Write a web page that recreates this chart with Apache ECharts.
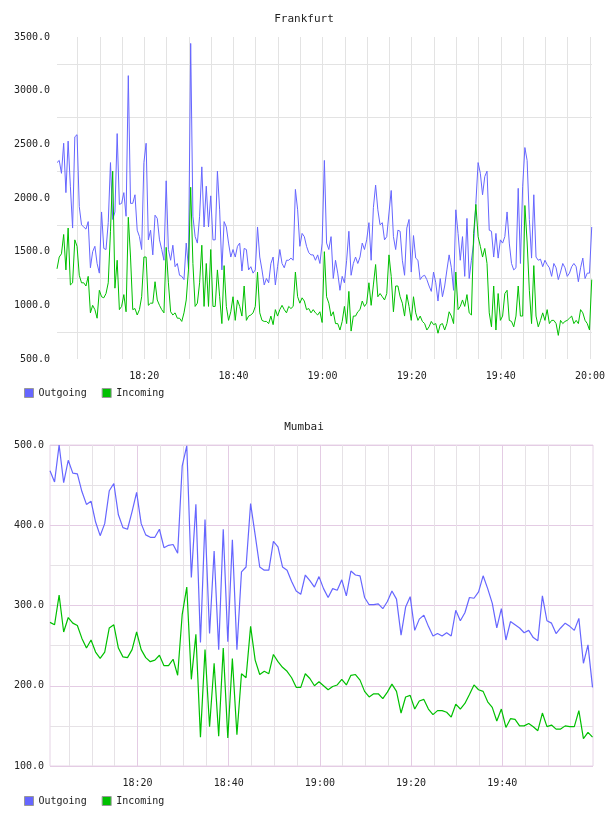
<!DOCTYPE html>
<html>
<head>
<meta charset="utf-8">
<script src="https://cdn.jsdelivr.net/npm/echarts@6/dist/echarts.min.js"></script>
<style>
  html, body { margin: 0; padding: 0; background: #fff; }
  #chart { width: 608px; height: 816px; }
</style>
</head>
<body>
<div id="chart"></div>
<script>
// minutes after 18:00 for the first sample, and sample spacing in minutes
const frankfurtStart = 0.4
const frankfurtStep = 0.5
const mumbaiStart = 0.8
const mumbaiStep = 1

const frankfurtOutgoing = [
  2330, 2350, 2230, 2510, 2050, 2530, 2110, 1720, 2570, 2590,
  1920, 1750, 1730, 1710, 1780, 1350, 1500, 1550, 1390, 1300,
  1870, 1530, 1520, 1770, 2330, 1800, 1870, 2600, 1940, 1950,
  2050, 1830, 3140, 1950, 1950, 2030, 1700, 1640, 1520, 2330,
  2510, 1610, 1700, 1470, 1840, 1810, 1610, 1520, 1420, 2160,
  1520, 1420, 1560, 1360, 1390, 1280, 1270, 1240, 1580, 1350,
  3440, 1830, 1640, 1580, 1830, 2290, 1730, 2110, 1730, 2020,
  1610, 1610, 2250, 1890, 1330, 1780, 1730, 1580, 1450, 1520,
  1450, 1550, 1580, 1320, 1530, 1520, 1330, 1360, 1300, 1330,
  1730, 1450, 1330, 1190, 1250, 1210, 1390, 1450, 1190, 1360,
  1520, 1390, 1350, 1420, 1420, 1440, 1420, 2080, 1890, 1550,
  1670, 1640, 1550, 1490, 1470, 1470, 1420, 1470, 1390, 1580,
  2350, 1580, 1520, 1640, 1250, 1420, 1300, 1140, 1270, 1210,
  1420, 1690, 1280, 1390, 1450, 1390, 1450, 1580, 1520, 1610,
  1770, 1420, 1910, 2120, 1890, 1750, 1770, 1610, 1640, 1860,
  2070, 1640, 1520, 1700, 1690, 1420, 1280, 1720, 1800, 1310,
  1650, 1440, 1420, 1240, 1270, 1280, 1240, 1180, 1130, 1310,
  1210, 1040, 1250, 1080, 1180, 1330, 1470, 1350, 1140, 1890,
  1670, 1420, 1640, 1270, 1810, 1250, 1420, 1580, 1950, 2330,
  2230, 2030, 2200, 2250, 1700, 1690, 1450, 1670, 1440, 1610,
  1580, 1640, 1870, 1580, 1390, 1330, 1350, 2090, 1390, 2110,
  2470, 2350, 1800, 1440, 2030, 1450, 1420, 1430, 1360, 1420,
  1380, 1350, 1270, 1390, 1350, 1240, 1310, 1390, 1350, 1270,
  1300, 1360, 1390, 1360, 1220, 1350, 1440, 1250, 1300, 1300,
  1730
]

const frankfurtIncoming = [
  1340, 1450, 1480, 1660, 1330, 1720, 1190, 1210, 1610, 1550,
  1280, 1210, 1210, 1180, 1270, 930, 1000, 960, 880, 1140,
  1080, 1070, 1110, 1210, 1690, 2250, 1160, 1420, 960, 990,
  1100, 940, 1820, 1450, 960, 970, 910, 960, 1080, 1450,
  1450, 1000, 1020, 1020, 1220, 1050, 1000, 960, 930, 1540,
  1210, 940, 910, 930, 880, 880, 850, 930, 1050, 1330,
  2100, 1390, 990, 1020, 1210, 1560, 990, 1390, 990, 1520,
  990, 990, 1330, 1080, 830, 1370, 990, 860, 940, 1080,
  860, 1050, 990, 900, 1180, 860, 900, 910, 930, 990,
  1310, 930, 860, 850, 850, 830, 900, 820, 960, 900,
  960, 1000, 960, 930, 990, 970, 990, 1310, 1080, 1020,
  1070, 1040, 960, 970, 930, 960, 930, 910, 940, 840,
  1500, 1080, 1020, 900, 940, 830, 830, 770, 850, 990,
  830, 1130, 760, 900, 900, 940, 960, 1040, 990, 1020,
  1210, 1000, 1190, 1380, 1080, 1110, 1080, 1050, 1110, 1470,
  1270, 940, 1180, 1180, 1080, 1020, 900, 1100, 990, 860,
  1080, 930, 860, 900, 850, 830, 770, 800, 850, 820,
  830, 740, 820, 830, 770, 830, 940, 900, 830, 1310,
  960, 990, 1050, 990, 1100, 930, 910, 1670, 1940, 1640,
  1550, 1450, 1530, 1390, 930, 800, 1180, 770, 1110, 860,
  900, 1110, 1140, 860, 850, 800, 900, 1180, 900, 900,
  1930, 1590, 1140, 830, 1370, 900, 800, 860, 930, 860,
  960, 830, 860, 860, 830, 720, 860, 830, 850, 860,
  880, 900, 830, 860, 830, 960, 930, 860, 830, 770,
  1240
]

const mumbaiOutgoing = [
  468, 454, 500, 453, 481, 465, 464, 442, 426, 430,
  404, 387, 402, 443, 452, 413, 397, 395, 417, 441,
  402, 388, 385, 385, 395, 372, 375, 376, 365, 474,
  499, 335, 426, 254, 407, 265, 368, 245, 395, 255,
  382, 245, 342, 348, 427, 388, 348, 344, 344, 380,
  373, 348, 344, 330, 318, 314, 338, 331, 323, 336,
  321, 310, 321, 319, 332, 312, 343, 338, 337, 310,
  301, 301, 302, 296, 305, 318, 308, 263, 298, 311,
  269, 283, 288, 274, 262, 265, 262, 266, 262, 294,
  281, 291, 310, 309, 317, 337, 321, 303, 272, 296,
  257, 280, 276, 272, 266, 269, 260, 256, 312, 281,
  278, 265, 272, 278, 274, 269, 284, 228, 251, 198
]

const mumbaiIncoming = [
  279, 276, 313, 267, 285, 278, 275, 259, 247, 257,
  242, 234, 242, 272, 276, 247, 236, 235, 245, 267,
  245, 235, 230, 232, 238, 225, 225, 233, 213, 289,
  323, 208, 264, 136, 245, 149, 228, 137, 247, 135,
  234, 139, 215, 210, 274, 232, 214, 218, 215, 239,
  230, 223, 218, 210, 198, 198, 215, 209, 200, 205,
  200, 195, 199, 201, 208, 201, 213, 214, 207, 193,
  186, 190, 190, 184, 192, 202, 193, 166, 186, 188,
  171, 181, 183, 171, 164, 169, 169, 167, 161, 177,
  171, 178, 189, 201, 195, 193, 180, 173, 156, 171,
  148, 159, 158, 150, 150, 153, 149, 144, 166, 149,
  151, 146, 146, 150, 149, 149, 169, 134, 142, 136
]

const seriesNames = ['Outgoing', 'Incoming']

const font = 'DejaVu Sans Mono'
const textColor = '#222'
const blue = '#6666ff'
const green = '#00c000'
const grayLine = '#e3e3e3'
const lilacMajor = '#e4cce4'
const lilacMinor = '#e6e2e6'

function toPairs(values, start, step) {
  return values.map((v, i) => [start + i * step, v])
}

function clockLabel(v) {
  if (Math.abs(v % 20) > 1e-6) return ''
  const m = Math.round(18 * 60 + v)
  return String(Math.floor(m / 60)).padStart(2, '0') + ':' + String(m % 60).padStart(2, '0')
}

function xAxis(gridIndex, min, max, colors, margin) {
  return {
    type: 'value',
    gridIndex,
    min,
    max,
    splitNumber: 24,
    axisLine: { show: false },
    axisTick: { show: false },
    axisLabel: {
      color: textColor,
      fontFamily: font,
      fontSize: 10,
      margin,
      formatter: clockLabel
    },
    splitLine: {
      show: true,
      showMinLine: false,
      showMaxLine: false,
      lineStyle: { color: colors, width: 1 }
    }
  }
}

function yAxis(gridIndex, min, max, interval, step, colors, margin) {
  return {
    type: 'value',
    gridIndex,
    min,
    max,
    interval,
    axisLine: { show: false },
    axisTick: { show: false },
    axisLabel: {
      color: textColor,
      fontFamily: font,
      fontSize: 10,
      margin,
      formatter: v => (v % step === 0 ? v.toFixed(1) : '')
    },
    splitLine: {
      show: true,
      lineStyle: { color: colors, width: 1 }
    }
  }
}

function legend(top) {
  return {
    left: 24,
    top,
    padding: 0,
    data: seriesNames,
    icon: 'rect',
    itemWidth: 9,
    itemHeight: 9,
    itemGap: 15,
    selectedMode: false,
    itemStyle: { borderColor: '#999', borderWidth: 1 },
    textStyle: { color: textColor, fontFamily: font, fontSize: 10 }
  }
}

function line(name, data, color, idx, width) {
  return {
    name,
    type: 'line',
    xAxisIndex: idx,
    yAxisIndex: idx,
    data,
    showSymbol: false,
    symbol: 'none',
    color,
    lineStyle: { color, width },
    emphasis: { disabled: true }
  }
}

const chart = echarts.init(document.getElementById('chart'), null, { renderer: 'canvas' })

chart.setOption({
  animation: false,
  backgroundColor: '#fff',
  title: [
    {
      text: 'Frankfurt',
      left: 'center',
      top: 14,
      padding: 0,
      textStyle: { fontFamily: font, fontSize: 11, fontWeight: 'normal', color: textColor }
    },
    {
      text: 'Mumbai',
      left: 'center',
      top: 422,
      padding: 0,
      textStyle: { fontFamily: font, fontSize: 11, fontWeight: 'normal', color: textColor }
    }
  ],
  legend: [legend(388), legend(796)],
  grid: [
    { left: 57, top: 37, right: 15, height: 322, show: false },
    {
      left: 50,
      top: 445,
      right: 15,
      height: 321,
      show: true,
      borderColor: '#e6d4e6',
      borderWidth: 1,
      backgroundColor: 'transparent'
    }
  ],
  xAxis: [
    xAxis(0, 0.4, 120.45, [grayLine], 12),
    xAxis(1, 0.8, 119.9, [lilacMinor, lilacMinor, lilacMinor, lilacMajor], 12)
  ],
  yAxis: [
    yAxis(0, 500, 3500, 250, 500, ['rgba(0,0,0,0)', grayLine], 7),
    yAxis(1, 100, 500, 50, 100, [lilacMajor, lilacMinor], 6)
  ],
  series: [
    line('Outgoing', toPairs(frankfurtOutgoing, frankfurtStart, frankfurtStep), blue, 0, 1),
    line('Incoming', toPairs(frankfurtIncoming, frankfurtStart, frankfurtStep), green, 0, 1),
    line('Outgoing', toPairs(mumbaiOutgoing, mumbaiStart, mumbaiStep), blue, 1, 1.2),
    line('Incoming', toPairs(mumbaiIncoming, mumbaiStart, mumbaiStep), green, 1, 1.2)
  ]
})
</script>
</body>
</html>
